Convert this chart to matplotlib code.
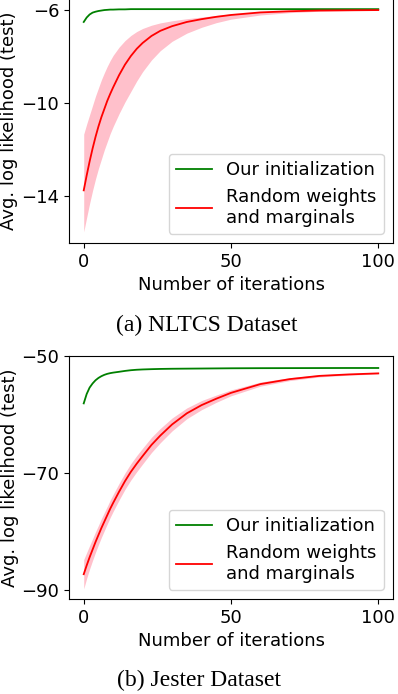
import numpy as np
import matplotlib.pyplot as plt

iters = [0, 1, 2, 3, 4, 5, 6, 7, 8, 9, 10, 12, 14, 16, 18, 20, 23, 26, 30, 35,
         40, 45, 50, 60, 70, 80, 90, 100]

# (a) NLTCS
nltcs_ours = [-6.52, -6.33, -6.2, -6.12, -6.08, -6.05, -6.03, -6.01, -6.0, -5.99,
              -5.99, -5.98, -5.98, -5.97, -5.97, -5.97, -5.97, -5.97, -5.97, -5.97,
              -5.97, -5.97, -5.97, -5.97, -5.97, -5.97, -5.97, -5.97]
nltcs_rand = [-13.74, -13.1, -12.5, -11.95, -11.45, -11.0, -10.6, -10.25, -9.9, -9.6,
              -9.32, -8.8, -8.35, -7.98, -7.67, -7.42, -7.12, -6.9, -6.7, -6.52,
              -6.4, -6.3, -6.22, -6.11, -6.06, -6.03, -6.02, -6.01]
nltcs_hi = [-11.33, -10.9, -10.5, -10.1, -9.7, -9.35, -9.0, -8.7, -8.42, -8.17,
            -7.95, -7.6, -7.32, -7.1, -6.93, -6.8, -6.66, -6.56, -6.47, -6.38,
            -6.31, -6.24, -6.18, -6.1, -6.05, -6.03, -6.01, -6.0]
nltcs_lo = [-15.52, -14.9, -14.3, -13.75, -13.25, -12.8, -12.4, -12.0, -11.65, -11.3,
            -11.0, -10.45, -9.95, -9.5, -9.05, -8.65, -8.15, -7.75, -7.35, -7.0,
            -6.75, -6.55, -6.4, -6.22, -6.12, -6.06, -6.03, -6.02]

# (b) Jester
jester_ours = [-58.1, -56.5, -55.4, -54.7, -54.15, -53.75, -53.45, -53.22, -53.05, -52.93,
               -52.84, -52.7, -52.55, -52.43, -52.35, -52.3, -52.25, -52.21, -52.18, -52.16,
               -52.14, -52.12, -52.1, -52.08, -52.07, -52.06, -52.05, -52.05]
jester_rand = [-87.3, -85.8, -84.4, -83.1, -81.8, -80.6, -79.4, -78.3, -77.2, -76.1,
               -75.1, -73.2, -71.4, -69.8, -68.4, -67.1, -65.2, -63.6, -61.7, -59.8,
               -58.4, -57.3, -56.3, -54.8, -53.95, -53.4, -53.15, -52.97]
jester_spread = [2.5, 2.2, 2.0, 1.85, 1.75, 1.65, 1.6, 1.55, 1.5, 1.48,
                 1.45, 1.42, 1.4, 1.4, 1.38, 1.35, 1.3, 1.22, 1.1, 0.92,
                 0.78, 0.62, 0.5, 0.35, 0.25, 0.18, 0.13, 0.1]
jester_lo = np.array(jester_rand) - np.array(jester_spread)
jester_hi = np.array(jester_rand) + np.array(jester_spread)

panels = [
    ("(a) NLTCS Dataset", nltcs_ours, nltcs_rand, nltcs_lo, nltcs_hi, [-6, -10, -14]),
    ("(b) Jester Dataset", jester_ours, jester_rand, jester_lo, jester_hi, [-50, -70, -90]),
]

W, H = 398, 694
fig = plt.figure(figsize=(W / 100, H / 100), dpi=100)

ax_boxes = [(69, -2, 393, 243), (69, 356, 393, 599)]
cap_pos = [(207, 325), (199, 680)]

for (cap, ours, rand, lo, hi, yt), (l, t, r, b), (cx, cy) in zip(panels, ax_boxes, cap_pos):
    ax = fig.add_axes([l / W, 1 - b / H, (r - l) / W, (b - t) / H])
    ax.fill_between(iters, lo, hi, color="pink", linewidth=0)
    ax.plot(iters, ours, color="green", lw=1.3, label="Our initialization")
    ax.plot(iters, rand, color="red", lw=1.3, label="Random weights\nand marginals")
    ax.set_xticks([0, 50, 100])
    ax.set_yticks(yt)
    ax.tick_params(labelsize=13)
    ax.set_xlabel("Number of iterations", fontsize=13)
    ax.set_ylabel("Avg. log likelihood (test)", fontsize=13, labelpad=2)
    ax.legend(loc="lower right", fontsize=13)
    if yt[0] == -50:
        ax.set_ylim(-91.54, -50)
    fig.text(cx / W, 1 - cy / H, cap, family="Liberation Serif", fontsize=17,
             ha="center", va="center")

fig.savefig("out.png", dpi=100)
